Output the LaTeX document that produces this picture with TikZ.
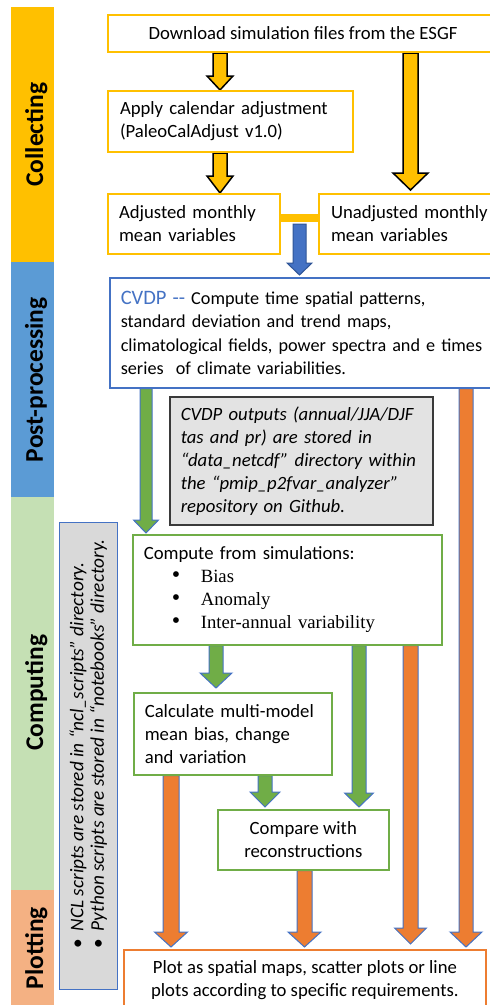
\documentclass[tikz,border=0pt]{standalone}
\usepackage{fontspec}
\setmainfont{Carlito}
\newfontfamily\timesf{Liberation Serif}
\usetikzlibrary{calc}
\definecolor{yel}{HTML}{FFC000}
\definecolor{bluebar}{HTML}{5B9BD5}
\definecolor{blueb}{HTML}{4472C4}
\definecolor{bluedk}{HTML}{2F5597}
\definecolor{grn}{HTML}{70AD47}
\definecolor{lgrn}{HTML}{C5E0B4}
\definecolor{org}{HTML}{ED7D31}
\definecolor{lorg}{HTML}{F4B183}
\definecolor{grayA}{HTML}{D9D9D9}
\definecolor{grayB}{HTML}{E3E3E3}
\definecolor{notedraw}{HTML}{3A3A3A}
\tikzset{
  box/.style={draw, line width=1.6pt, fill=white, anchor=north west, inner ysep=0pt,
    font=\fontsize{18.7}{23}\selectfont},
  ybox/.style={box, draw=yel, line width=2pt},
  bbox/.style={box, draw=blueb, line width=1.6pt},
  gbox/.style={box, draw=grn, line width=1.6pt},
  obox/.style={box, draw=org, line width=1.8pt},
  notebox/.style={box, draw=notedraw, fill=grayB, line width=1.6pt},
  sidebar/.style={anchor=north west, minimum width=43, inner sep=0pt, draw=none},
  sidelabel/.style={rotate=90, inner sep=0pt, font=\fontsize{25.5}{28}\selectfont\bfseries},
  yarrow/.style={fill=yel, draw=black, line width=1.5pt, line join=miter},
  barrowst/.style={fill=blueb, draw=bluedk, line width=1pt},
  garrow/.style={fill=grn, draw=blueb, line width=1pt},
  oarrow/.style={fill=org, draw=blueb, line width=1pt},
}
% block arrow: #1 style, #2 start, #3 tip, #4 shaft half width, #5 head half width, #6 head length
\newcommand\blockarrow[6]{%
  \path #2 coordinate (ba-s) #3 coordinate (ba-e);
  \filldraw[#1] ($(ba-s)+(-#4,0)$) -- ($(ba-e)+(-#4,-#6)$) -- ($(ba-e)+(-#5,-#6)$)
    -- (ba-e) -- ($(ba-e)+(#5,-#6)$) -- ($(ba-e)+(#4,-#6)$) -- ($(ba-s)+(#4,0)$) -- cycle;
}
\newcommand\itembul{\hspace*{28pt}\makebox[29pt][l]{\fontsize{24}{23}\selectfont\textbullet}}
\begin{document}
\begin{tikzpicture}[x=1pt,y=-1pt]
\useasboundingbox (0,0) rectangle (490,1005);
\clip (0,0) rectangle (490,1005);

% side bars
\node[sidebar, fill=yel, minimum height=255] (sb1) at (11,7) {};
\node[sidebar, fill=bluebar, minimum height=235] (sb2) at (11,262) {};
\node[sidebar, fill=lgrn, minimum height=393] (sb3) at (11,497) {};
\node[sidebar, fill=lorg, minimum height=125] (sb4) at (11,890) {};
\node[sidelabel] (sl1) at ($(sb1.center)+(3.5,0)$) {Collecting};
\node[sidelabel] (sl2) at ($(sb2.center)+(3.5,0)$) {Post-processing};
\node[sidelabel] (sl3) at ($(sb3.center)+(3.5,-1)$) {Computing};
\node[sidelabel] (sl4) at ($(sb4.center)+(3.5,-4.5)$) {Plotting};

% x positions of arrows
\coordinate (xa) at (220,0);
\coordinate (xb) at (410.5,0);
\coordinate (xc) at (146,0);
\coordinate (xd) at (466,0);
\coordinate (xe) at (216,0);
\coordinate (xf) at (359,0);
\coordinate (xg) at (410.5,0);
\coordinate (xh) at (265,0);
\coordinate (xi) at (171,0);
\coordinate (xj) at (304.5,0);

% boxes (positions)
\coordinate (p-dl) at (107,14);
\coordinate (p-ap) at (107,90);
\coordinate (p-ad) at (107,193);
\coordinate (p-un) at (318,193);
\coordinate (p-cv) at (109,277);
\coordinate (p-nt) at (169,396);
\coordinate (p-co) at (132,534);
\coordinate (p-ca) at (133,692);
\coordinate (p-cm) at (217,809);
\coordinate (p-pl) at (123,949);

% invisible placement nodes first to get anchors
\path node[ybox, draw=none, fill=none, minimum width=390, minimum height=37, align=center] (dl) at (p-dl) {\phantom{D}}
      node[ybox, draw=none, fill=none, text width=221, inner xsep=12, minimum height=61] (ap) at (p-ap) {}
      node[ybox, draw=none, fill=none, text width=150, inner xsep=11, minimum height=60] (ad) at (p-ad) {}
      node[ybox, draw=none, fill=none, text width=176, inner xsep=12, minimum height=60] (un) at (p-un) {}
      node[bbox, draw=none, fill=none, text width=379, inner xsep=11, minimum height=110] (cv) at (p-cv) {}
      node[gbox, draw=none, fill=none, text width=287, inner xsep=11, minimum height=110] (co) at (p-co) {}
      node[gbox, draw=none, fill=none, text width=176, inner xsep=11, minimum height=82] (ca) at (p-ca) {}
      node[gbox, draw=none, fill=none, minimum width=171, minimum height=60] (cm) at (p-cm) {}
      node[obox, draw=none, fill=none, minimum width=362, minimum height=60] (pl) at (p-pl) {};

% connector between adjusted and unadjusted
\draw[yel, line width=8pt] ($(ad.east)+(0,-6)$) -- ($(un.west)+(0,-6)$);
\coordinate (jn) at ($(ad.east)!0.5!(un.west)$);

% arrows
\blockarrow{yarrow}{(dl.south -| xa)}{(ap.north -| xa)}{7}{13}{14}
\blockarrow{yarrow}{(ap.south -| xa)}{(ad.north -| xa)}{7}{13}{17}
\blockarrow{yarrow}{(dl.south -| xb)}{($(un.north -| xb)+(0,-3)$)}{7.5}{17.5}{17}
\blockarrow{barrowst}{(jn)}{($(cv.north -| jn)+(0,-2)$)}{6.5}{12.5}{12}
\blockarrow{garrow}{(cv.south -| xc)}{($(co.north -| xc)+(0,-1)$)}{6}{12.5}{13}
\blockarrow{oarrow}{(cv.south -| xd)}{($(pl.north -| xd)+(0,-2)$)}{7}{16}{15}
\blockarrow{garrow}{(co.south -| xe)}{($(ca.north -| xe)+(0,-4)$)}{7}{16}{15}
\blockarrow{garrow}{(co.south -| xf)}{($(cm.north -| xf)+(0,-2)$)}{7}{14.5}{14}
\blockarrow{oarrow}{(co.south -| xg)}{($(pl.north -| xg)+(0,-5)$)}{7.5}{16}{16}
\blockarrow{garrow}{(ca.south -| xh)}{($(cm.north -| xh)+(0,-2)$)}{7}{15}{15}
\blockarrow{oarrow}{(ca.south -| xi)}{($(pl.north -| xi)+(0,-2)$)}{8}{16.5}{15}
\blockarrow{oarrow}{(cm.south -| xj)}{($(pl.north -| xj)+(0,-2)$)}{7.5}{16.5}{15}

% boxes drawn
\node[ybox, minimum width=390, minimum height=37, align=center] (dlb) at (p-dl) {Download simulation files from the ESGF};
\node[ybox, text width=221, inner xsep=12, minimum height=61, align=left] (apb) at (p-ap) {Apply calendar adjustment\\(PaleoCalAdjust v1.0)};
\node[ybox, text width=150, inner xsep=11, minimum height=60, align=left] (adb) at (p-ad) {Adjusted monthly\\mean variables};
\node[ybox, text width=176, inner xsep=12, minimum height=60, align=left] (unb) at (p-un) {Unadjusted monthly\\mean variables};
\node[bbox, text width=379, inner xsep=11, minimum height=110, align=left, font=\fontsize{18.2}{23.5}\selectfont] (cvb) at (p-cv)
  {{\color{blueb}\fontsize{20.5}{23.5}\selectfont CVDP -{}-} Compute time spatial patterns,\\standard deviation and trend maps,\\climatological fields, power spectra and e times\\series\ \ of climate variabilities.};
\node[notebox, text width=241, inner xsep=11, minimum height=128, align=left] (nt) at (p-nt)
  {\itshape CVDP outputs (annual/JJA/DJF\\tas and pr) are stored in\\“data\_netcdf” directory within\\the “pmip\_p2fvar\_analyzer”\\repository on Github.};
\node[gbox, text width=287, inner xsep=11, minimum height=110, align=left] (cob) at (p-co)
  {Compute from simulations:\\
   {\timesf\itembul Bias}\\
   {\timesf\itembul Anomaly}\\
   {\timesf\itembul Inter-annual variability}};
\node[gbox, text width=176, inner xsep=11, minimum height=82, align=left] (cab) at (p-ca)
  {Calculate multi-model\\mean bias, change\\and variation};
\node[gbox, minimum width=171, minimum height=60, align=center] (cmb) at (p-cm) {Compare with\\reconstructions};
\node[obox, minimum width=362, minimum height=60, align=center] (plb) at (p-pl)
  {Plot as spatial maps, scatter plots or line\\plots according to specific requirements.};

% left vertical note
\node[draw=blueb, line width=0.9pt, fill=grayA, anchor=north west, minimum width=58, minimum height=467, inner sep=0pt] (ln) at (59,522) {};
\node[rotate=90, anchor=west, inner sep=0pt, font=\fontsize{19.3}{20.5}\selectfont] (lt) at ($(ln.south)+(1,-41)$)
  {\begin{tabular}{@{}l@{\hspace{8pt}}l@{}}
   \textbullet & \itshape NCL scripts are stored in “ncl\_scripts” directory.\\
   \textbullet & \itshape Python scripts are stored in “notebooks” directory.
   \end{tabular}};
\end{tikzpicture}
\end{document}
